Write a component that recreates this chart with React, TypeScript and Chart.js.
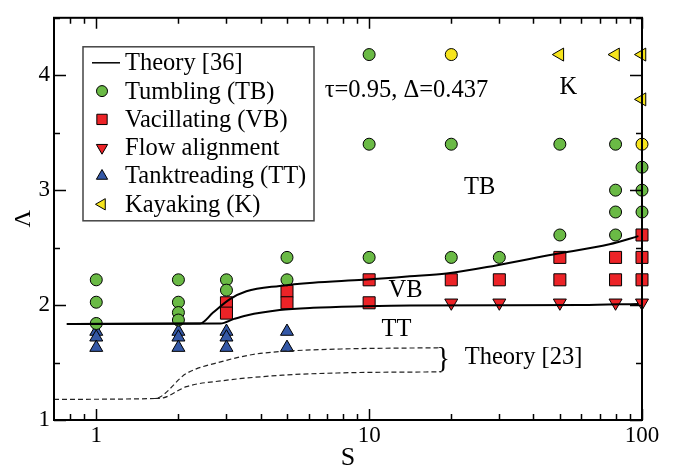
import React, { useEffect, useRef } from 'react';
import { Chart, registerables } from 'chart.js';
import { drawPoint } from 'chart.js/helpers';

Chart.register(...registerables);

const SERIF = '"Liberation Serif", "Times New Roman", "DejaVu Serif", serif';

// ---------------- data ----------------
// Tumbling (TB) – green circles
const tbS = [1, 1, 1, 2, 2, 2, 2, 3, 3, 5, 5, 10, 10, 10, 20, 20, 30, 50, 50, 80, 80, 80, 80, 100, 100, 100];
const tbL = [2.22, 2.025, 1.84, 2.22, 2.025, 1.935, 1.87, 2.22, 2.13, 2.415, 2.22, 4.18, 3.4, 2.415, 3.4, 2.415, 2.415, 3.4, 2.61, 3.4, 3.0, 2.81, 2.61, 3.2, 3.0, 2.81];
// Vacillating (VB) – red squares
const vbS = [3, 3, 5, 5, 10, 10, 20, 30, 50, 50, 80, 80, 100, 100, 100];
const vbL = [2.02, 1.93, 2.12, 2.02, 2.22, 2.02, 2.22, 2.22, 2.415, 2.22, 2.415, 2.22, 2.61, 2.415, 2.22];
// Flow alignment – red down triangles
const faS = [20, 30, 50, 80, 100];
const faL = [2.02, 2.02, 2.02, 2.02, 2.02];
// Tanktreading (TT) – blue up triangles
const ttS = [1, 1, 1, 2, 2, 2, 3, 3, 3, 5, 5];
const ttL = [1.77, 1.72, 1.63, 1.77, 1.72, 1.63, 1.77, 1.72, 1.63, 1.77, 1.63];
// Kayaking (K) – yellow left triangles
const kS = [50, 80, 100, 100];
const kL = [4.18, 4.18, 4.18, 3.79];
// yellow circles
const ycS = [20, 100];
const ycL = [4.18, 3.4];

// Theory [36] – solid curves
const th36aS = [0.78, 2.4, 2.68, 3.08, 3.55, 4.7, 6.23, 9.5, 14.1, 19.2, 29.2, 47.2, 76, 97];
const th36aL = [1.835, 1.84, 1.935, 2.05, 2.12, 2.167, 2.195, 2.22, 2.25, 2.274, 2.345, 2.44, 2.53, 2.6];
const th36bS = [0.78, 2.85, 3.2, 3.55, 4.7, 6.23, 9.5, 14.1, 30, 60, 97];
const th36bL = [1.835, 1.84, 1.88, 1.91, 1.957, 1.977, 1.99, 1.997, 1.998, 2.0, 2.01];
// Theory [23] – dashed curves
const th23aS = [0.7, 1.64, 2.14, 2.9, 3.75, 4.83, 7.9, 18.4];
const th23aL = [1.18, 1.187, 1.405, 1.51, 1.57, 1.597, 1.618, 1.629];
const th23bS = [1.64, 1.76, 2.14, 2.9, 4.83, 7.9, 18.4];
const th23bL = [1.187, 1.193, 1.29, 1.342, 1.39, 1.41, 1.419];

// axis ticks
const xTickValues = [0.8, 0.9, 1, 2, 3, 4, 5, 6, 7, 8, 9, 10, 20, 30, 40, 50, 60, 70, 80, 90, 100];
const xMajor = [1, 10, 100];
const yMajor = [1, 2, 3, 4];

const GREEN = '#6aba45';
const RED = '#ec2327';
const BLUE = '#3458a6';
const YELLOW = '#f6e41c';

const pts = (xs: number[], ys: number[]) => xs.map((x, i) => ({ x, y: ys[i] }));

const legendItems: Array<{ label: string; line?: boolean; color?: string; style?: string; rot?: number; r?: number }> = [
  { label: 'Theory [36]', line: true },
  { label: 'Tumbling (TB)', color: GREEN, style: 'circle', rot: 0, r: 5.5 },
  { label: 'Vacillating (VB)', color: RED, style: 'rect', rot: 0, r: 7.3 },
  { label: 'Flow alignment', color: RED, style: 'triangle', rot: 180, r: 6.5 },
  { label: 'Tanktreading (TT)', color: BLUE, style: 'triangle', rot: 0, r: 6.5 },
  { label: 'Kayaking (K)', color: YELLOW, style: 'triangle', rot: 270, r: 6.5 },
];

const frameAndTicks = {
  id: 'frameAndTicks',
  afterDatasetsDraw(chart: any) {
    const { ctx, chartArea: a, scales } = chart;
    const xs = scales.x;
    const ys = scales.y;
    ctx.save();
    ctx.strokeStyle = '#000';
    ctx.lineWidth = 1.5;
    ctx.beginPath();
    for (const t of xs.ticks) {
      const px = Math.round(xs.getPixelForValue(t.value)) + 0.5;
      const len = xMajor.includes(t.value) ? 11 : 6;
      ctx.moveTo(px, a.bottom);
      ctx.lineTo(px, a.bottom - len);
      ctx.moveTo(px, a.top);
      ctx.lineTo(px, a.top + len);
    }
    for (const t of ys.ticks) {
      const py = Math.round(ys.getPixelForValue(t.value)) + 0.5;
      const len = yMajor.includes(t.value) ? 12 : 6;
      ctx.moveTo(a.left, py);
      ctx.lineTo(a.left + len, py);
      ctx.moveTo(a.right, py);
      ctx.lineTo(a.right - len, py);
    }
    ctx.stroke();
    ctx.lineWidth = 2;
    ctx.strokeRect(a.left, a.top, a.right - a.left, a.bottom - a.top);
    ctx.restore();
  },
};

const annotations = {
  id: 'annotations',
  afterDatasetsDraw(chart: any) {
    const { ctx, scales } = chart;
    const xs = scales.x;
    const ys = scales.y;
    const P = (sx: number, l: number) => [xs.getPixelForValue(sx), ys.getPixelForValue(l)];
    ctx.save();
    ctx.fillStyle = '#000';
    ctx.textBaseline = 'middle';
    ctx.font = `24.5px ${SERIF}`;
    const put = (txt: string, sx: number, l: number, align: CanvasTextAlign) => {
      const [px, py] = P(sx, l);
      ctx.textAlign = align;
      ctx.fillText(txt, px, py);
    };
    put('\u03c4=0.95, \u0394=0.437', 6.87, 3.87, 'left');
    put('K', 53.7, 3.89, 'center');
    put('TB', 25.4, 3.02, 'center');
    put('VB', 13.6, 2.13, 'center');
    put('TT', 12.6, 1.79, 'center');
    put('Theory [23]', 22.4, 1.544, 'left');
    ctx.font = `29px ${SERIF}`;
    put('}', 18.7, 1.527, 'center');
    ctx.restore();
  },
};

const customLegend = {
  id: 'customLegend',
  afterDraw(chart: any) {
    const { ctx, chartArea: a } = chart;
    const left = a.left + 29;
    const top = a.top + 29;
    const w = 231;
    const h = 174;
    ctx.save();
    ctx.fillStyle = '#fff';
    ctx.fillRect(left, top, w, h);
    ctx.strokeStyle = '#444';
    ctx.lineWidth = 1.5;
    ctx.strokeRect(left, top, w, h);
    ctx.font = `24.5px ${SERIF}`;
    ctx.textBaseline = 'middle';
    ctx.textAlign = 'left';
    legendItems.forEach((it, i) => {
      const cy = top + 16 + i * 28.3;
      const mx = left + 19;
      if (it.line) {
        ctx.strokeStyle = '#000';
        ctx.lineWidth = 1.5;
        ctx.beginPath();
        ctx.moveTo(left + 9, cy);
        ctx.lineTo(left + 37, cy);
        ctx.stroke();
      } else {
        ctx.fillStyle = it.color;
        ctx.strokeStyle = '#000';
        ctx.lineWidth = 1;
        drawPoint(ctx, { pointStyle: it.style as any, rotation: it.rot || 0, radius: it.r || 5, borderWidth: 1 }, mx, cy);
      }
      ctx.fillStyle = '#000';
      ctx.fillText(it.label, left + 42, cy + 1);
    });
    ctx.restore();
  },
};

export default function App() {
  const ref = useRef<HTMLCanvasElement | null>(null);
  useEffect(() => {
    if (!ref.current) return;
    const marker = (label: string, xs: number[], ys: number[], color: string, style: string, rot: number, r: number) => ({
      type: 'scatter' as const,
      label,
      data: pts(xs, ys),
      showLine: false,
      pointStyle: style,
      rotation: rot,
      pointRadius: r,
      pointHoverRadius: r,
      backgroundColor: color,
      borderColor: '#000',
      pointBorderWidth: 1,
      borderWidth: 1,
      clip: false as any,
    });
    const curve = (label: string, xs: number[], ys: number[], dashed: boolean) => ({
      type: 'scatter' as const,
      label,
      data: pts(xs, ys),
      showLine: true,
      pointRadius: 0,
      pointHoverRadius: 0,
      borderColor: dashed ? '#222' : '#000',
      borderWidth: dashed ? 1.2 : 2,
      borderDash: dashed ? [5, 3] : [],
      cubicInterpolationMode: 'monotone' as const,
      fill: false,
    });
    const chart = new Chart(ref.current, {
      type: 'scatter',
      data: {
        datasets: [
          curve('Theory [36]', th36aS, th36aL, false),
          curve('Theory [36] (lower)', th36bS, th36bL, false),
          curve('Theory [23]', th23aS, th23aL, true),
          curve('Theory [23] (lower)', th23bS, th23bL, true),
          marker('Tumbling (TB)', tbS, tbL, GREEN, 'circle', 0, 6),
          marker('Vacillating (VB)', vbS, vbL, RED, 'rect', 0, 8.5),
          marker('Flow alignment', faS, faL, RED, 'triangle', 180, 7.5),
          marker('Tanktreading (TT)', ttS, ttL, BLUE, 'triangle', 0, 7.5),
          marker('Kayaking (K)', kS, kL, YELLOW, 'triangle', 270, 7.5),
          marker('Kayaking (K) circles', ycS, ycL, YELLOW, 'circle', 0, 6),
        ] as any,
      },
      options: {
        responsive: false,
        animation: false,
        devicePixelRatio: 1,
        layout: { padding: { top: 10, right: 42, left: 0, bottom: 0 } },
        plugins: { legend: { display: false }, tooltip: { enabled: false } },
        scales: {
          x: {
            type: 'logarithmic',
            min: 0.7,
            max: 100,
            grid: { display: false, drawTicks: false },
            border: { display: false },
            afterBuildTicks: (scale: any) => {
              scale.ticks = xTickValues.map((v) => ({ value: v, major: xMajor.includes(v) }));
            },
            afterFit: (scale: any) => {
              scale.height = 48;
            },
            ticks: {
              autoSkip: false,
              maxRotation: 0,
              minRotation: 0,
              padding: 2,
              color: '#000',
              font: { family: SERIF, size: 23 },
              callback: (v: any) => (xMajor.includes(Number(v)) ? String(v) : ''),
            },
            title: {
              display: true,
              text: 'S',
              color: '#000',
              font: { family: SERIF, size: 26, lineHeight: 0.77 },
              padding: { top: 0, bottom: 0 },
            },
          },
          y: {
            type: 'linear',
            min: 1,
            max: 4.5,
            grid: { display: false, drawTicks: false },
            border: { display: false },
            afterFit: (scale: any) => {
              scale.width = 54;
            },
            ticks: {
              stepSize: 0.5,
              padding: 4,
              color: '#000',
              font: { family: SERIF, size: 23 },
              callback: (v: any) => (yMajor.includes(Number(v)) ? String(v) : ''),
            },
            title: {
              display: true,
              text: '\u039b',
              color: '#000',
              font: { family: SERIF, size: 24, lineHeight: 1.2 },
              padding: { top: 9, bottom: 0 },
            },
          },
        },
      } as any,
      plugins: [frameAndTicks, annotations, customLegend],
    });
    return () => chart.destroy();
  }, []);
  return (
    <div style={{ position: 'absolute', left: 0, top: 0, width: 684, height: 468, background: '#fff' }}>
      <canvas ref={ref} width={684} height={468} style={{ display: 'block', width: 684, height: 468 }} />
    </div>
  );
}
